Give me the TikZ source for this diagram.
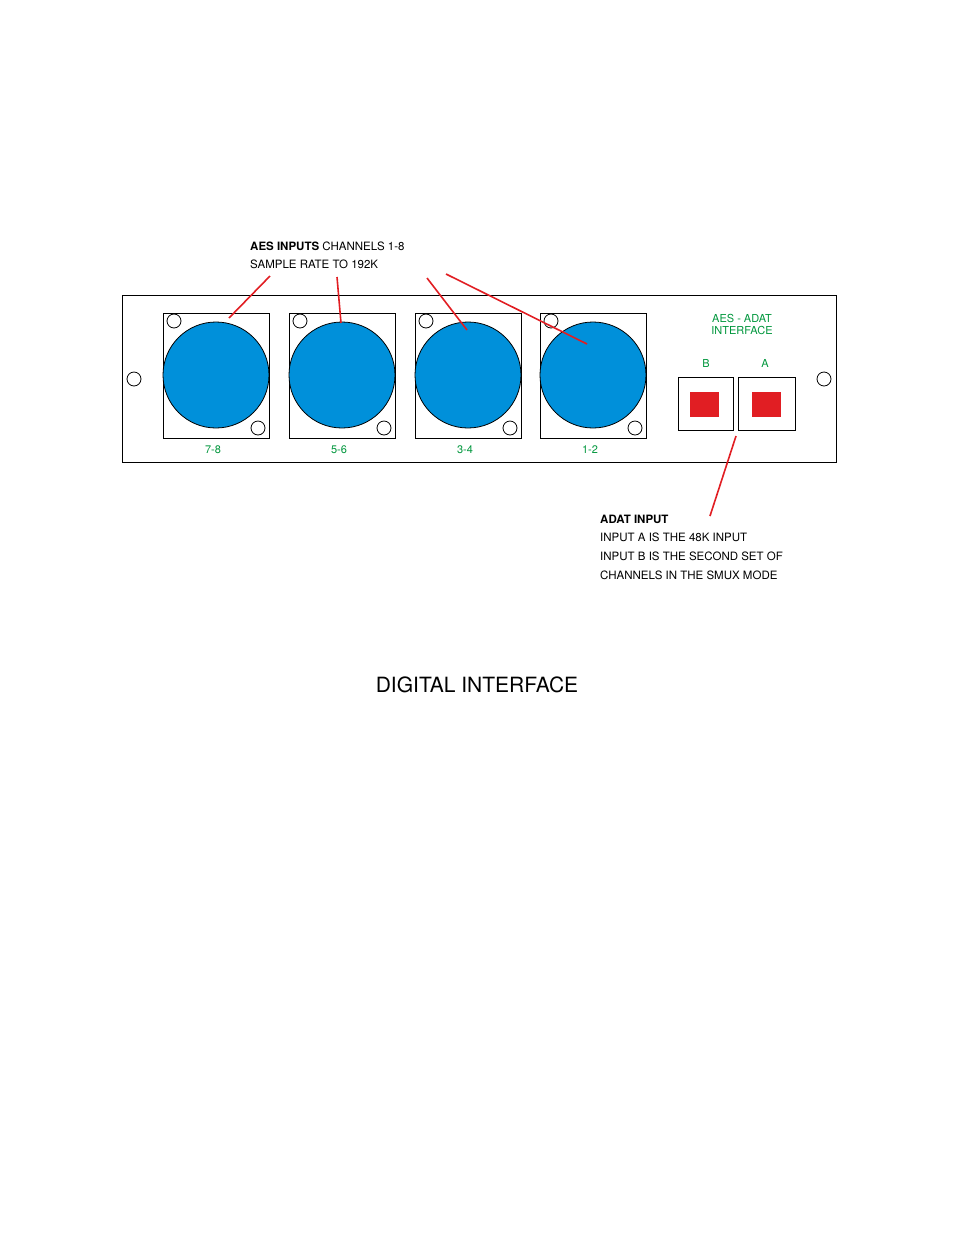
\documentclass[tikz,border=0pt]{standalone}
\usepackage{fontspec}
\setmainfont{TeX Gyre Heros}
\definecolor{xblue}{RGB}{0,144,218}
\definecolor{xgreen}{RGB}{0,150,60}
\definecolor{xred}{RGB}{225,30,35}
\begin{document}
\begin{tikzpicture}[x=1pt,y=-1pt,
  lbl/.style={font=\fontsize{11}{12}\selectfont,text=xgreen,inner sep=0},
  txt/.style={font=\fontsize{11.5}{13}\selectfont,anchor=west,inner sep=0},
  redline/.style={draw=xred,line width=1.6pt},
  hole/.style={draw,thick,fill=white}]
\useasboundingbox (0,0) rectangle (954,1235);
\draw[thick] (122,295) rectangle (836,462);
\draw[hole] (134,379) circle (7);
\draw[hole] (824,379) circle (7);
\foreach \x/\l/\n in {163/7-8/a,289/5-6/b,415/3-4/c,540/1-2/d}{
  \draw[thick] (\x,313) rectangle ++(106,125);
  \draw[thick,fill=xblue] (\x+53,375) circle (53);
  \coordinate (c\n) at (\x+53,375);
  \draw[hole] (\x+11,321) circle (7);
  \draw[hole] (\x+95,428) circle (7);
  \node[lbl] at (\x+50,450) {\l};
}
\node[lbl,align=center] at (742,324) {AES - ADAT\\INTERFACE};
\node[lbl] at (706,363) {B};
\node[lbl] at (765,363) {A};
\draw[thick] (678,377) rectangle (733,430);
\fill[xred] (690,392) rectangle (719,417);
\draw[thick] (738,377) rectangle (795,430);
\fill[xred] (752,392) rectangle (781,417);
\coordinate (adat) at (736,436);
\node[txt] (aes1) at (250,246) {\textbf{AES INPUTS} CHANNELS 1-8};
\node[txt] (aes2) at (250,264) {SAMPLE RATE TO 192K};
\draw[redline] (270,276) -- (229,318);
\draw[redline] (337,277) -- (341,323);
\draw[redline] (427,278) -- (467,330);
\draw[redline] (446,274) -- (587,344);
\draw[redline] (adat) -- (710,516);
\node[txt] (ad1) at (600,519) {\textbf{ADAT INPUT}};
\node[txt] at (600,537) {INPUT A IS THE 48K INPUT};
\node[txt] at (600,556) {INPUT B IS THE SECOND SET OF};
\node[txt] at (600,575) {CHANNELS IN THE SMUX MODE};
\node[font=\fontsize{21}{24}\selectfont,inner sep=0] (title) at (477,685) {DIGITAL INTERFACE};
\end{tikzpicture}
\end{document}
